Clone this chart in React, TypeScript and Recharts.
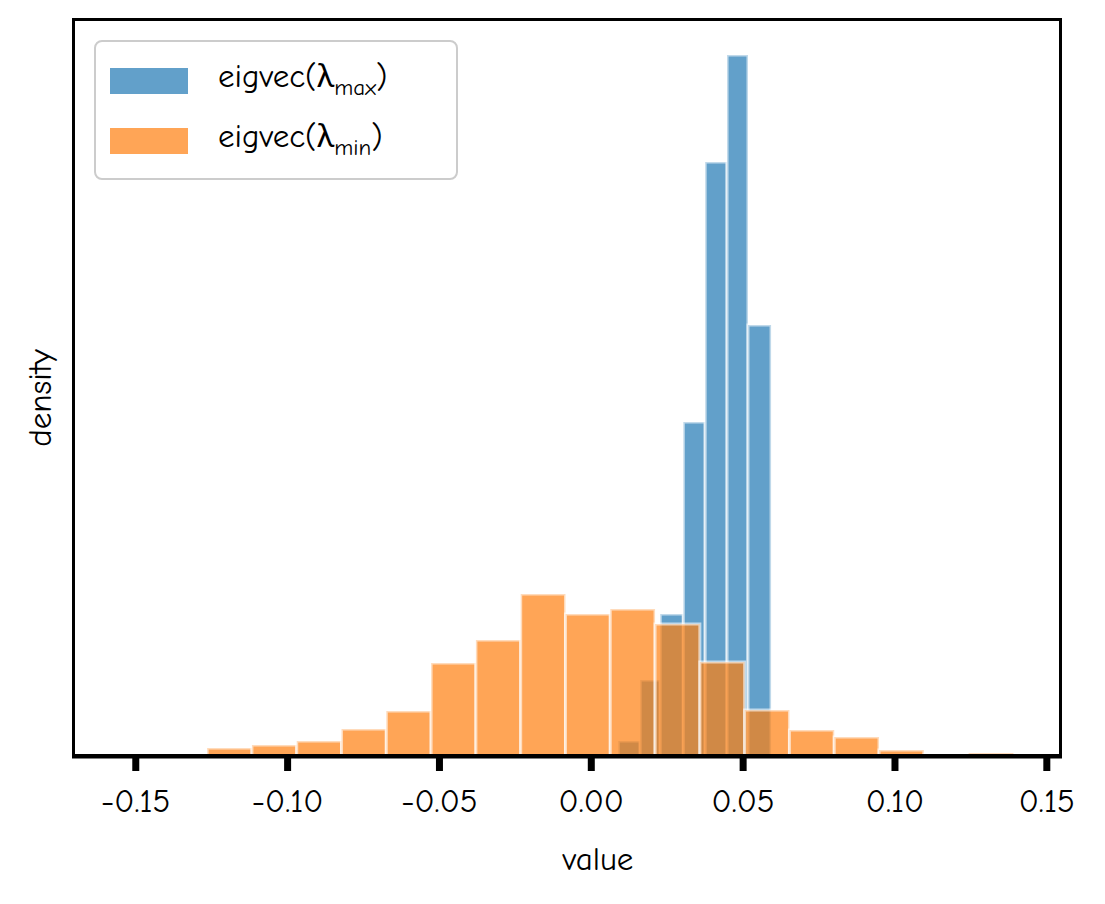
import React from 'react';
import { ComposedChart, XAxis, YAxis, ReferenceArea, Scatter } from 'recharts';

// bin left edges and densities
const orangeStart = -0.1265;
const orangeWidth = 0.01475;
const orangeDensity = [0.45, 0.6, 0.8, 1.4, 2.3, 4.7, 5.85, 8.15, 7.15, 7.4, 6.65, 4.75, 2.35, 1.35, 1.0, 0.35, 0.1, 0.2];

const blueEdges = [0.0089, 0.0161, 0.0227, 0.0303, 0.0375, 0.0447, 0.0516, 0.0592];
const blueDensity = [0.8, 3.85, 7.15, 16.75, 29.75, 35.1, 21.6];

const xTicks = [-0.15, -0.1, -0.05, 0, 0.05, 0.1, 0.15];

const font = "'Comic Neue', 'Comic Sans MS', Lato, 'DejaVu Sans', sans-serif";

const anchor = [{ x: -0.17, y: 0 }, { x: 0.155, y: 36.95 }];

export default function App() {
  return (
    <div style={{ position: 'relative', width: 1090, height: 896, fontFamily: font }}>
      <ComposedChart width={1090} height={896} margin={{ top: 10, right: 36, left: 64, bottom: 87 }} data={anchor}>
        <XAxis
          type="number"
          dataKey="x"
          domain={[-0.171, 0.155]}
          ticks={xTicks}
          allowDataOverflow
          tickFormatter={(v: number) => v.toFixed(2)}
          axisLine={{ stroke: '#000', strokeWidth: 3 }}
          tickLine={{ stroke: '#000', strokeWidth: 7 }}
          tickSize={14}
          height={60}
          tick={{ fill: '#000', fontSize: 33, fontFamily: font, dy: 16 }}
        />
        <YAxis type="number" dataKey="y" domain={[0, 36.95]} allowDataOverflow hide />
        <Scatter dataKey="y" fill="none" shape={() => null} isAnimationActive={false} />
        {blueDensity.map((d, i) => (
          <ReferenceArea
            key={'b' + i}
            x1={blueEdges[i]}
            x2={blueEdges[i + 1]}
            y1={0}
            y2={d}
            ifOverflow="visible"
            fill="#1f77b4"
            fillOpacity={0.7}
            stroke="#ffffff"
            strokeOpacity={0.6}
            strokeWidth={3}
          />
        ))}
        {orangeDensity.map((d, i) => (
          <ReferenceArea
            key={'o' + i}
            x1={orangeStart + i * orangeWidth}
            x2={orangeStart + (i + 1) * orangeWidth}
            y1={0}
            y2={d}
            ifOverflow="visible"
            fill="#ff7f0e"
            fillOpacity={0.7}
            stroke="#ffffff"
            strokeOpacity={0.6}
            strokeWidth={3}
          />
        ))}
      </ComposedChart>
      <div style={{ position: 'absolute', left: 64, top: 10, width: 990, height: 739, border: '3px solid #000', boxSizing: 'border-box', pointerEvents: 'none' }} />
      <div style={{ position: 'absolute', left: 86, top: 32, width: 364, height: 140, border: '2px solid #ccc', borderRadius: 8, background: 'rgba(255,255,255,0.8)', boxSizing: 'border-box', fontSize: 33 }}>
        <div style={{ position: 'absolute', left: 14, top: 26, width: 78, height: 26, background: '#1f77b4', opacity: 0.7 }} />
        <div style={{ position: 'absolute', left: 122, top: 12 }}>eigvec(λ<sub style={{ fontSize: 23 }}>max</sub>)</div>
        <div style={{ position: 'absolute', left: 14, top: 86, width: 78, height: 26, background: '#ff7f0e', opacity: 0.7 }} />
        <div style={{ position: 'absolute', left: 122, top: 72 }}>eigvec(λ<sub style={{ fontSize: 23 }}>min</sub>)</div>
      </div>
      <div style={{ position: 'absolute', left: 0, width: 1180, top: 832, textAlign: 'center', fontSize: 33 }}>value</div>
      <div style={{ position: 'absolute', left: 32, top: 390, fontSize: 33, transform: 'translate(-50%, -50%) rotate(-90deg)' }}>density</div>
    </div>
  );
}
